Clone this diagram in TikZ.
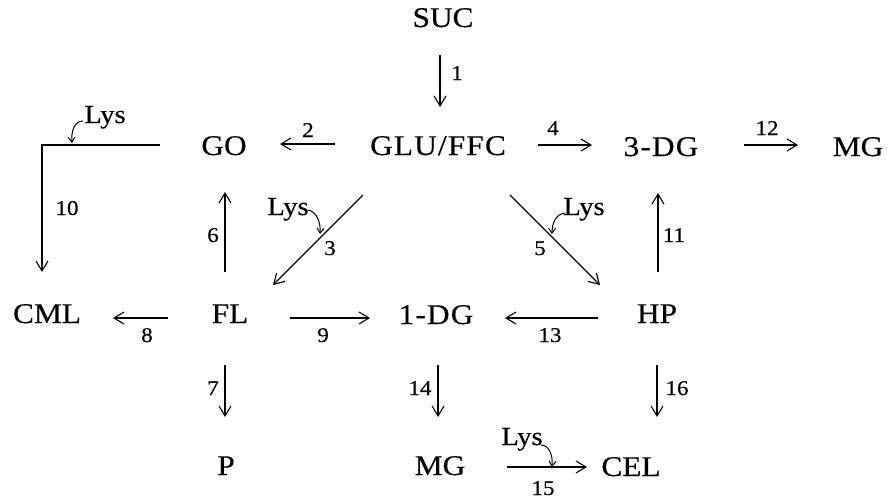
\documentclass[tikz,border=0pt]{standalone}
\usepackage{fontspec}
\setmainfont{Liberation Serif}[FakeStretch=1.1,FakeBold=0.35]
\usetikzlibrary{arrows.meta}
\begin{document}
\begin{tikzpicture}[x=1pt,y=-1pt,
  species/.style={anchor=base,inner sep=0pt,font=\fontsize{28.5}{30}\selectfont},
  wide/.style={species,font=\fontsize{28.5}{30}\selectfont\addfontfeature{LetterSpace=4}},
  lys/.style={anchor=base,inner sep=0pt,font=\fontsize{26}{28}\selectfont},
  num/.style={anchor=base,inner sep=0pt,font=\fontsize{21}{23}\selectfont},
  rxn/.style={line width=1.1pt,-{Straight Barb[length=10pt,width=12pt,line width=1.1pt]}},
  lysarr/.style={line width=1pt,-{Straight Barb[length=5pt,width=7pt,line width=1pt]}}]
\useasboundingbox (0,0) rectangle (889,501);

% compounds
\node[species] (suc) at (443,27) {SUC};
\node[wide] (glu) at (438,155) {GLU/FFC};
\node[species] (go) at (224,155) {GO};
\node[wide] (dg3) at (661,156) {3-DG};
\node[species] (mg1) at (858,156) {MG};
\node[species] (cml) at (47,323) {CML};
\node[species] (fl) at (230,323) {FL};
\node[wide] (dg1) at (436,324) {1-DG};
\node[species] (hp) at (657,323) {HP};
\node[species] (p) at (226,475) {P};
\node[species] (mg2) at (440,475) {MG};
\node[species] (cel) at (631,476) {CEL};

% arrow end points
\coordinate (s1) at (440,55);   \coordinate (e1) at (440,107);
\coordinate (s2) at (335,144);  \coordinate (e2) at (280,144);
\coordinate (s4) at (538,145);  \coordinate (e4) at (592,145);
\coordinate (s12) at (744,145); \coordinate (e12) at (798,145);
\coordinate (s10) at (160,145); \coordinate (k10) at (42,145); \coordinate (e10) at (42,272);
\coordinate (s6) at (225,272);  \coordinate (e6) at (225,192);
\coordinate (s3) at (363,195);  \coordinate (e3) at (273,285);
\coordinate (s5) at (510,195);  \coordinate (e5) at (600,285);
\coordinate (s11) at (658,272); \coordinate (e11) at (658,193);
\coordinate (s8) at (168,318);  \coordinate (e8) at (113,318);
\coordinate (s9) at (290,318);  \coordinate (e9) at (370,318);
\coordinate (s13) at (598,318); \coordinate (e13) at (505,318);
\coordinate (s7) at (225,365);  \coordinate (e7) at (225,417);
\coordinate (s14) at (438,365); \coordinate (e14) at (438,417);
\coordinate (s16) at (657,365); \coordinate (e16) at (657,417);
\coordinate (s15) at (507,467); \coordinate (e15) at (587,467);

% reaction arrows
\draw[rxn] (s1) -- (e1);
\draw[rxn] (s2) -- (e2);
\draw[rxn] (s4) -- (e4);
\draw[rxn] (s12) -- (e12);
\draw[rxn] (s10) -- (k10) -- (e10);
\draw[rxn] (s6) -- (e6);
\draw[rxn] (s3) -- (e3);
\draw[rxn] (s5) -- (e5);
\draw[rxn] (s11) -- (e11);
\draw[rxn] (s8) -- (e8);
\draw[rxn] (s9) -- (e9);
\draw[rxn] (s13) -- (e13);
\draw[rxn] (s7) -- (e7);
\draw[rxn] (s14) -- (e14);
\draw[rxn] (s16) -- (e16);
\draw[rxn] (s15) -- (e15);

% step numbers
\node[num] (n1) at (457,80) {1};
\node[num] (n2) at (308,137) {2};
\node[num] (n4) at (553,135) {4};
\node[num] (n12) at (767,135) {12};
\node[num] (n10) at (67,215) {10};
\node[num] (n6) at (213,242) {6};
\node[num] (n3) at (330,255) {3};
\node[num] (n5) at (540,255) {5};
\node[num] (n11) at (674,242) {11};
\node[num] (n8) at (147,342) {8};
\node[num] (n9) at (323,342) {9};
\node[num] (n13) at (550,342) {13};
\node[num] (n7) at (213,395) {7};
\node[num] (n14) at (420,395) {14};
\node[num] (n16) at (677,395) {16};
\node[num] (n15) at (543,495) {15};

% lysine inputs
\node[lys] (lys10) at (105,123) {Lys};
\node[lys] (lys3) at (288,215) {Lys};
\node[lys] (lys5) at (584,215) {Lys};
\node[lys] (lys15) at (522,445) {Lys};

\coordinate (l10a) at (83,121); \coordinate (l10b) at (72,143);
\coordinate (l3a) at (308,210); \coordinate (l3b) at (320,234);
\coordinate (l5a) at (565,213); \coordinate (l5b) at (552,234);
\coordinate (l15a) at (541,445); \coordinate (l15b) at (552,467);

\draw[lysarr] (l10a) .. controls (75,121) and (71,130) .. (l10b);
\draw[lysarr] (l3a) .. controls (316,211) and (321,222) .. (l3b);
\draw[lysarr] (l5a) .. controls (556,214) and (552,223) .. (l5b);
\draw[lysarr] (l15a) .. controls (549,445) and (553,455) .. (l15b);
\end{tikzpicture}
\end{document}
